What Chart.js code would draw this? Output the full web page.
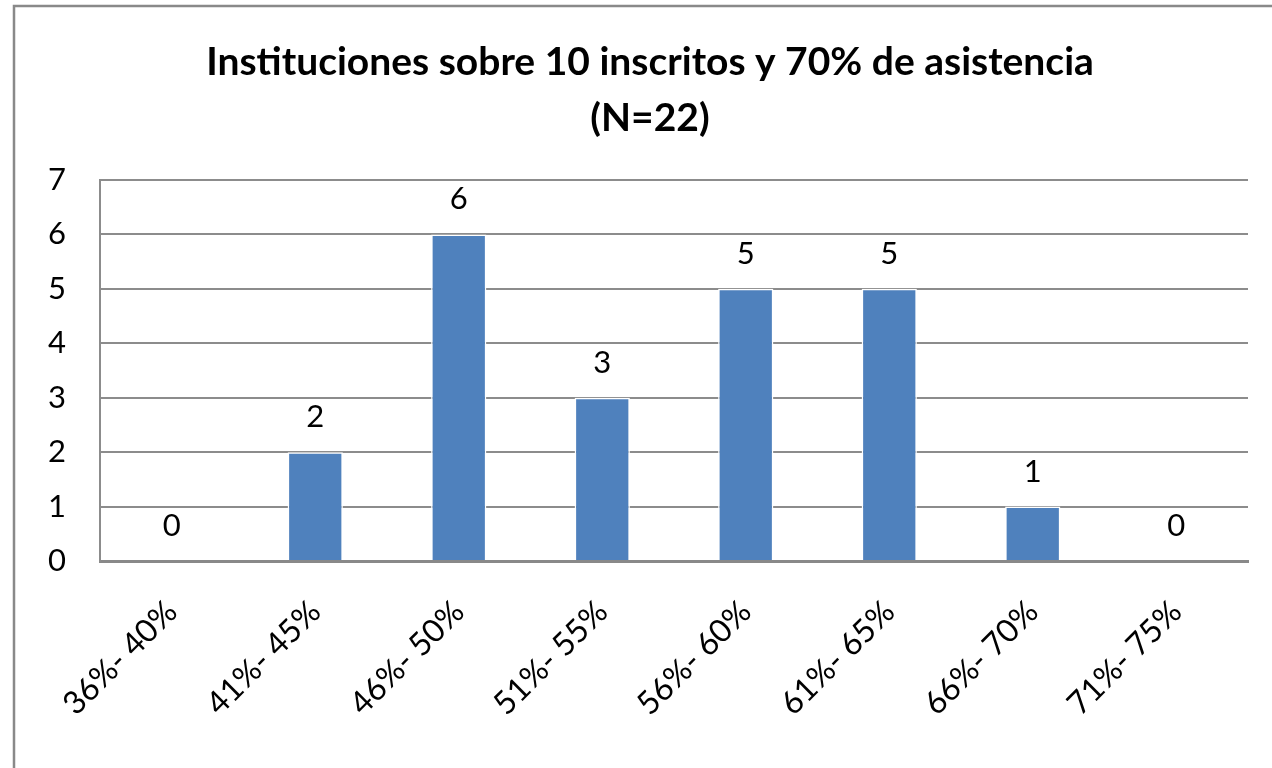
<!DOCTYPE html>
<html>
<head>
<meta charset="utf-8">
<script src="https://cdn.jsdelivr.net/npm/chart.js@4"></script>
<style>
html,body{margin:0;padding:0;background:#fff;}
#wrap{width:1272px;height:768px;position:relative;}
</style>
</head>
<body>
<div id="wrap"><canvas id="c" width="1272" height="768"></canvas></div>
<script>
const categories = ["36%- 40%","41%- 45%","46%- 50%","51%- 55%","56%- 60%","61%- 65%","66%- 70%","71%- 75%"];
const counts = [0,2,6,3,5,5,1,0];
const titleLines = ["Instituciones sobre 10 inscritos y 70% de asistencia","(N=22)"];
const FONT = "Lato, 'Open Sans', sans-serif";

const outerBorder = {
  id:'outerBorder',
  beforeDraw(chart){
    const ctx = chart.ctx;
    ctx.save();
    ctx.fillStyle='#fff';
    ctx.fillRect(0,0,chart.width,chart.height);
    ctx.strokeStyle='#898989';
    ctx.lineWidth=2.5;
    ctx.strokeRect(14,6,1300,800);
    ctx.restore();
  }
};
// y tick labels drawn from the y scale (built-in labels would be clipped by the narrow scale box)
const yLabels = {
  id:'yLabels',
  afterDraw(chart){
    const ctx = chart.ctx;
    const y = chart.scales.y;
    ctx.save();
    ctx.font = "31px " + FONT;
    ctx.fillStyle = '#000';
    ctx.textAlign = 'right';
    ctx.textBaseline = 'middle';
    y.ticks.forEach(t=>{
      ctx.fillText(String(t.value), y.right - 34, y.getPixelForValue(t.value));
    });
    ctx.restore();
  }
};
const dataLabels = {
  id:'dataLabels',
  afterDatasetsDraw(chart){
    const ctx = chart.ctx;
    const meta = chart.getDatasetMeta(0);
    ctx.save();
    ctx.font = "31px " + FONT;
    ctx.fillStyle = '#000';
    ctx.textAlign = 'center';
    ctx.textBaseline = 'middle';
    meta.data.forEach((el,i)=>{
      ctx.fillText(String(counts[i]), el.x, el.y - 35);
    });
    ctx.restore();
  }
};

new Chart(document.getElementById('c'), {
  type:'bar',
  data:{
    labels: categories,
    datasets:[{
      data: counts,
      backgroundColor:'#4F81BD',
      borderColor:'#ffffff',
      borderWidth:1.5,
      categoryPercentage:1,
      barPercentage:0.385
    }]
  },
  options:{
    responsive:false,
    animation:false,
    devicePixelRatio:1,
    layout:{padding:{left:52,right:24,top:0,bottom:0}},
    plugins:{
      legend:{display:false},
      tooltip:{enabled:false},
      title:{
        display:true,
        text:titleLines,
        color:'#000',
        font:{family:FONT,size:39,weight:'bold',lineHeight:1.436},
        padding:{top:34,bottom:34}
      }
    },
    scales:{
      x:{
        grid:{display:false,drawTicks:false},
        border:{display:true,color:'#898989',width:3},
        ticks:{color:'#000',font:{family:FONT,size:32},maxRotation:45,minRotation:45,padding:32,autoSkip:false},
        afterFit(s){ s.height = 207; }
      },
      y:{
        min:0,max:7,
        grid:{color:'#8c8c8c',lineWidth:2,drawTicks:false},
        border:{display:true,color:'#8c8c8c',width:2},
        ticks:{stepSize:1,display:false},
        afterFit(s){ s.width = 48; }
      }
    }
  },
  plugins:[outerBorder,dataLabels,yLabels]
});
</script>
</body>
</html>
